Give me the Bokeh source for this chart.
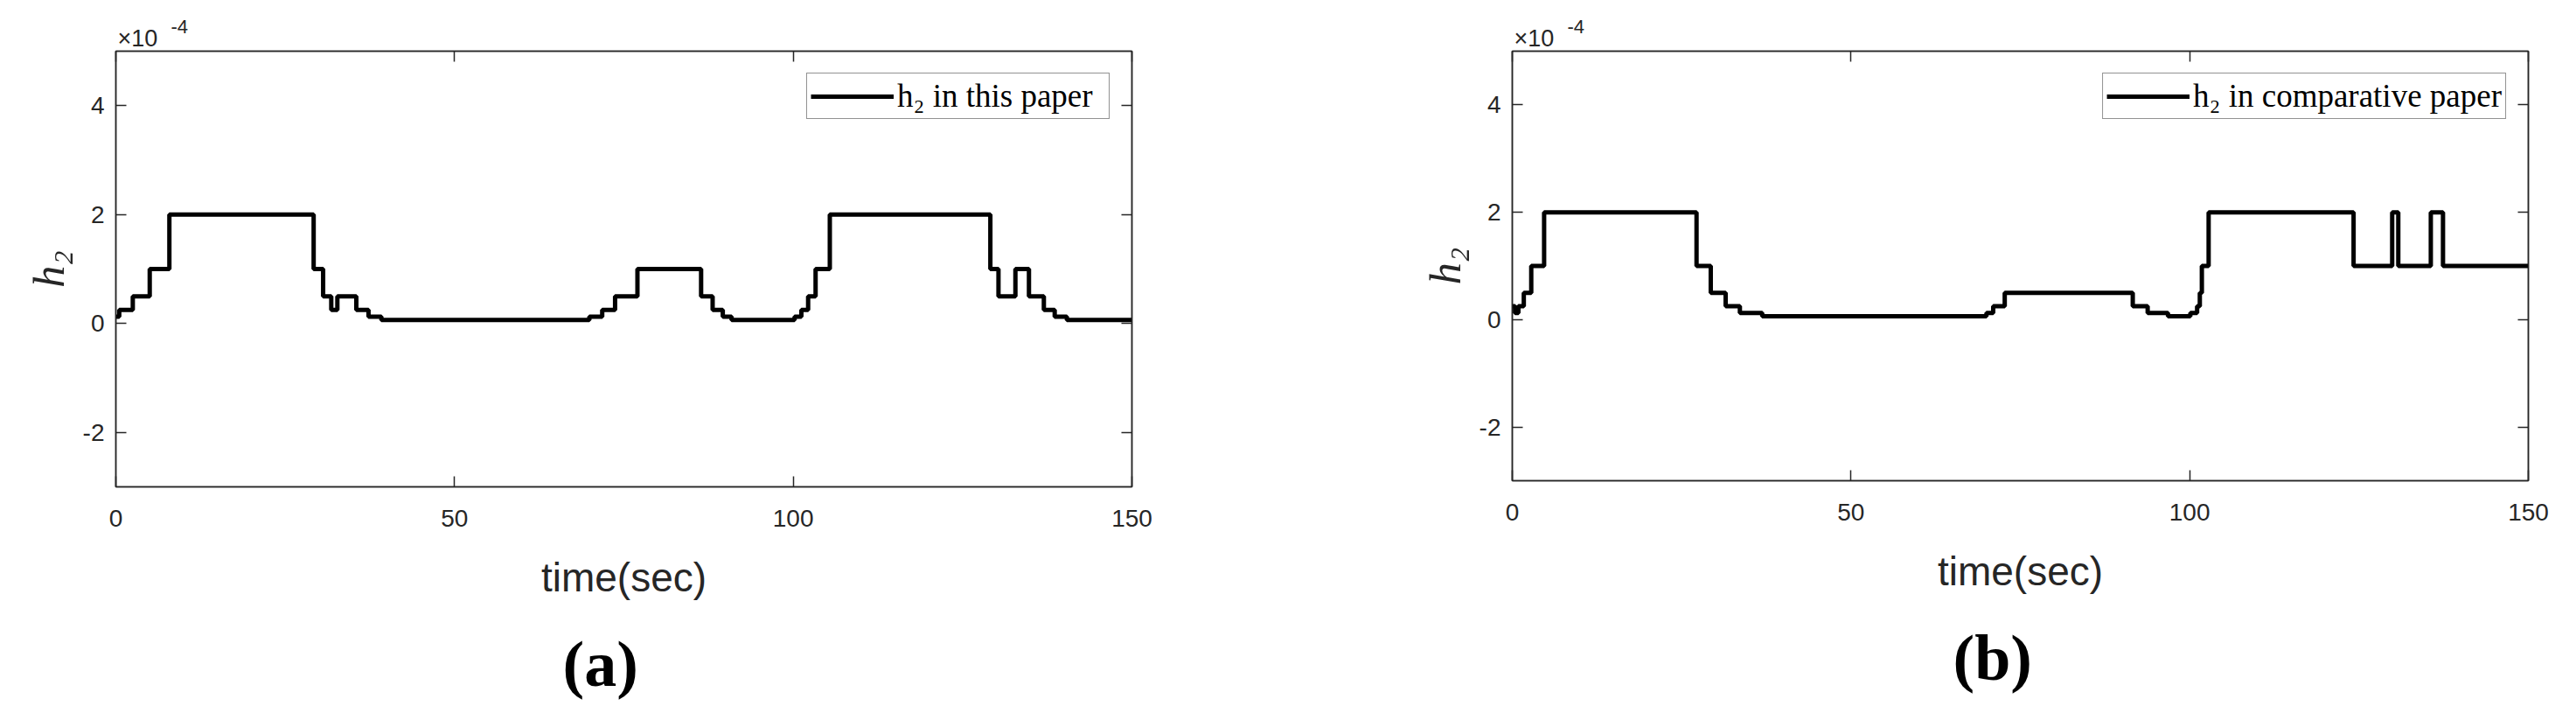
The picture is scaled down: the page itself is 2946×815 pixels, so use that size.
from bokeh.plotting import figure
from bokeh.models import Range1d, LinearAxis, FixedTicker, Legend, LegendItem, Title
from bokeh.layouts import row
from bokeh.embed import file_html
from bokeh.resources import INLINE

# ---- data (values in units of 1e-4) ----
time_a = [0, 0.5, 2.5, 5.0, 7.9, 29.2, 30.6, 31.8, 32.7, 35.5, 37.3, 39.2,
          69.9, 71.8, 73.7, 77.0, 86.4, 88.1, 89.6, 90.9, 100.2, 101.2, 102.2,
          103.3, 105.4, 129.1, 130.3, 132.8, 134.8, 137.0, 138.6, 140.4, 150]
h2_this_paper = [0.125, 0.25, 0.5, 1, 2, 1, 0.5, 0.25, 0.5, 0.25, 0.125, 0.0625,
                 0.125, 0.25, 0.5, 1, 0.5, 0.25, 0.125, 0.0625, 0.125, 0.25, 0.5,
                 1, 2, 1, 0.5, 1, 0.5, 0.25, 0.125, 0.0625, 0.0625]

time_b = [0, 0.4, 0.9, 1.7, 2.8, 4.7, 27.2, 29.3, 31.5, 33.6, 36.9, 70.0, 71.0,
          72.7, 91.6, 93.8, 96.8, 100.1, 101.1, 101.5, 101.8, 102.8, 124.2,
          129.9, 130.8, 135.6, 137.4, 150]
h2_comparative = [0.25, 0.125, 0.25, 0.5, 1, 2, 1, 0.5, 0.25, 0.125, 0.0625,
                  0.125, 0.25, 0.5, 0.25, 0.125, 0.0625, 0.125, 0.25, 0.5, 1, 2,
                  1, 2, 1, 2, 1, 1]

x_ticks = [0, 50, 100, 150]
y_ticks = [-2, 0, 2, 4]
y_tick_labels = ["-2", "0", "2", "4"]
legend_labels = ["h\u2082 in this paper", "h\u2082 in comparative paper"]
captions = ["(a)", "(b)"]
exponent_base = "\u00d710"
exponent_power = "-4"

AX = "#262626"


def make_panel(t, h, legend_label, caption, top, fh, left, right, label_w, cap_x):
    bottom = 795 - top - fh
    p = figure(frame_width=1162, frame_height=fh,
               min_border_left=left, min_border_right=right,
               min_border_top=top, min_border_bottom=bottom,
               x_range=Range1d(0, 150), y_range=Range1d(-3, 5),
               output_backend="svg", toolbar_location=None,
               x_axis_label="time(sec)", y_axis_label="h\u2082")
    p.xgrid.visible = False
    p.ygrid.visible = False
    p.outline_line_color = AX
    p.outline_line_width = 1.5
    p.background_fill_color = "white"
    p.border_fill_color = "white"

    xa = p.below[0]
    ya = p.left[0]
    xa.ticker = FixedTicker(ticks=x_ticks)
    ya.ticker = FixedTicker(ticks=y_ticks)
    ya.major_label_overrides = {v: s for v, s in zip(y_ticks, y_tick_labels)}
    for ax in (xa, ya):
        ax.axis_line_color = AX
        ax.axis_line_width = 1.5
        ax.major_tick_line_color = AX
        ax.major_tick_line_width = 1.5
        ax.major_tick_in = 12
        ax.major_tick_out = 0
        ax.minor_tick_line_color = None
        ax.major_label_text_font = "Liberation Sans"
        ax.major_label_text_font_size = "28px"
        ax.major_label_text_color = AX
    xa.major_label_standoff = 26
    ya.major_label_standoff = 13
    xa.axis_label_text_font = "Liberation Sans"
    xa.axis_label_text_font_size = "46px"
    xa.axis_label_text_font_style = "normal"
    xa.axis_label_text_color = AX
    xa.axis_label_standoff = 29
    ya.axis_label_text_font = "Liberation Serif"
    ya.axis_label_text_font_size = "50px"
    ya.axis_label_text_font_style = "italic"
    ya.axis_label_text_color = AX
    ya.axis_label_standoff = 8

    # mirrored ticks on top and right (MATLAB box), labels not drawn
    top_ax = LinearAxis(ticker=FixedTicker(ticks=x_ticks))
    right_ax = LinearAxis(ticker=FixedTicker(ticks=y_ticks))
    for ax in (top_ax, right_ax):
        ax.axis_line_color = AX
        ax.axis_line_width = 1.5
        ax.major_tick_line_color = AX
        ax.major_tick_line_width = 1.5
        ax.major_tick_in = 12
        ax.major_tick_out = 0
        ax.minor_tick_line_color = None
        ax.major_label_text_font_size = "1px"
        ax.major_label_text_color = None
        ax.major_label_standoff = 0
    p.add_layout(top_ax, "above")
    p.add_layout(right_ax, "right")

    # exponent marker "×10^-4" above the top-left corner
    p.add_layout(Title(text=exponent_base, align="left", offset=2, standoff=-1,
                       text_font="Liberation Sans", text_font_size="27px",
                       text_font_style="normal", text_color=AX), "above")
    p.add_layout(Title(text=exponent_power, align="left", offset=63, standoff=-20,
                       text_font="Liberation Sans", text_font_size="22px",
                       text_font_style="normal", text_color=AX), "above")

    r = p.step(t, h, mode="after", line_width=5, line_color="black")

    legend = Legend(items=[LegendItem(label=legend_label, renderers=[r])],
                    location="top_right", margin=25, padding=4, spacing=0,
                    glyph_width=95, glyph_height=30, label_height=30,
                    label_width=label_w, label_standoff=4,
                    label_text_font="Liberation Serif", label_text_font_size="37px",
                    label_text_color="black",
                    border_line_color=AX, border_line_width=1.5,
                    background_fill_color="white", background_fill_alpha=1)
    p.add_layout(legend)

    # panel caption below the axis label
    p.add_layout(Title(text=caption, align="left", offset=cap_x, standoff=54,
                       text_font="Liberation Serif", text_font_size="74px",
                       text_font_style="bold", text_color="black"), "below")
    return p


pa = make_panel(time_a, h2_this_paper, legend_labels[0], captions[0],
                top=53, fh=498, left=132, right=171, label_w=238, cap_x=511)
pb = make_panel(time_b, h2_comparative, legend_labels[1], captions[1],
                top=58, fh=491, left=264, right=39, label_w=352, cap_x=504)

layout = row(pa, pb)
open("out.html", "w").write(file_html(layout, INLINE))
